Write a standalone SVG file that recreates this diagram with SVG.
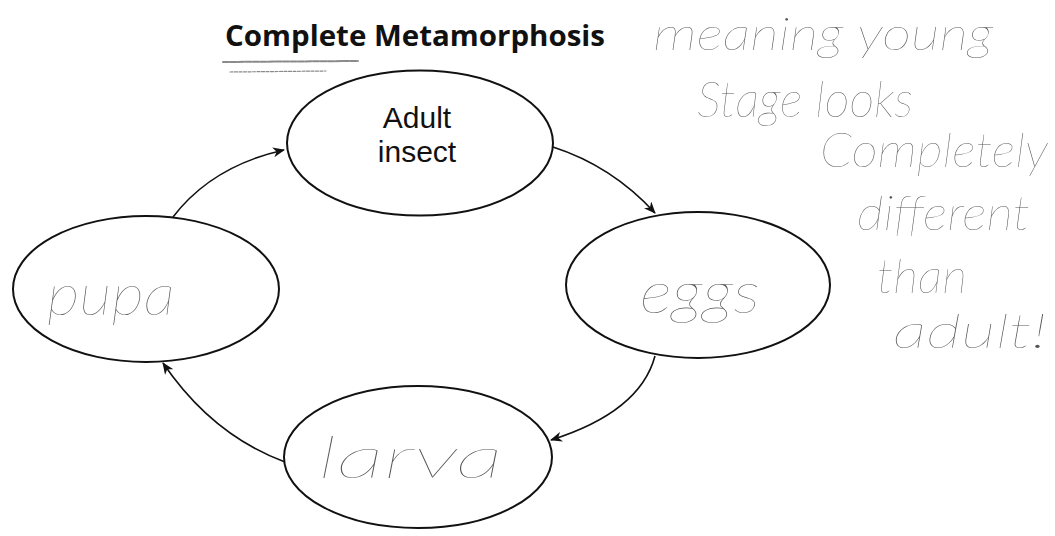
<svg xmlns="http://www.w3.org/2000/svg" width="1055" height="536" viewBox="0 0 1055 536">
  <style>
    .stage { fill: #fff; stroke: #111; stroke-width: 2; }
    .conn { fill: none; stroke: #111; stroke-width: 1.6; }
    .title { font-family: "Open Sans", "Liberation Sans", sans-serif; font-weight: 700; font-size: 29px; fill: #111; }
    .label { font-family: "Liberation Sans", Arial, sans-serif; font-size: 30px; fill: #111; text-anchor: middle; }
    .hand { font-family: "Lato", "Liberation Serif", serif; font-style: italic; font-weight: 100; fill: #575757; }
    .pencil { fill: none; stroke: #8a8a8a; stroke-linecap: round; }
  </style>
  <defs>
    <marker id="arrow" viewBox="0 0 12 10" refX="11" refY="5" markerWidth="13" markerHeight="10" markerUnits="userSpaceOnUse" orient="auto">
      <path d="M0,0 L12,5 L0,10 L3.5,5 z" fill="#111"/>
    </marker>
  </defs>

  <rect width="1055" height="536" fill="#fff"/>

  <!-- heading with pencil underline -->
  <g id="title">
    <text class="title" x="225" y="46" textLength="380" lengthAdjust="spacingAndGlyphs">Complete Metamorphosis</text>
    <path class="pencil" d="M223,62 L358,61" stroke-width="2" stroke-dasharray="6 1.5"/>
    <path class="pencil" d="M230,72 L326,71" stroke-width="1.2" stroke="#aaa" stroke-dasharray="3 1.5"/>
  </g>

  <!-- life-cycle connectors -->
  <g id="connectors">
    <path class="conn" d="M173,217 Q212,166 284,150" marker-end="url(#arrow)"/>
    <path class="conn" d="M553,147 Q612,166 655,213" marker-end="url(#arrow)"/>
    <path class="conn" d="M655,356 Q640,412 551,440" marker-end="url(#arrow)"/>
    <path class="conn" d="M285,462 Q212,435 163,363" marker-end="url(#arrow)"/>
  </g>

  <g id="adult">
    <ellipse class="stage" cx="420" cy="143" rx="133" ry="72.5"/>
    <text class="label"><tspan x="417" y="128">Adult</tspan><tspan x="417" y="162">insect</tspan></text>
  </g>

  <g id="eggs">
    <ellipse class="stage" cx="698" cy="285" rx="132" ry="73"/>
    <text class="hand" x="640" y="313" font-size="58" textLength="120" lengthAdjust="spacingAndGlyphs">eggs</text>
  </g>

  <g id="larva">
    <ellipse class="stage" cx="418" cy="457" rx="134" ry="71"/>
    <text class="hand" x="318" y="478" font-size="58" textLength="185" lengthAdjust="spacingAndGlyphs">larva</text>
  </g>

  <g id="pupa">
    <ellipse class="stage" cx="146" cy="289" rx="133" ry="73"/>
    <text class="hand" x="47" y="315" font-size="58" textLength="128" lengthAdjust="spacingAndGlyphs">pupa</text>
  </g>

  <!-- margin note -->
  <g id="note">
    <text class="hand" x="653" y="50" font-size="46" textLength="340" lengthAdjust="spacingAndGlyphs">meaning young</text>
    <text class="hand" x="697" y="117" font-size="50" textLength="216" lengthAdjust="spacingAndGlyphs">Stage looks</text>
    <text class="hand" x="820" y="167" font-size="48" textLength="228" lengthAdjust="spacingAndGlyphs">Completely</text>
    <text class="hand" x="857" y="230" font-size="48" textLength="173" lengthAdjust="spacingAndGlyphs">different</text>
    <text class="hand" x="877" y="293" font-size="48" textLength="90" lengthAdjust="spacingAndGlyphs">than</text>
    <text class="hand" x="893" y="348" font-size="48" textLength="154" lengthAdjust="spacingAndGlyphs">adult!</text>
  </g>
</svg>
